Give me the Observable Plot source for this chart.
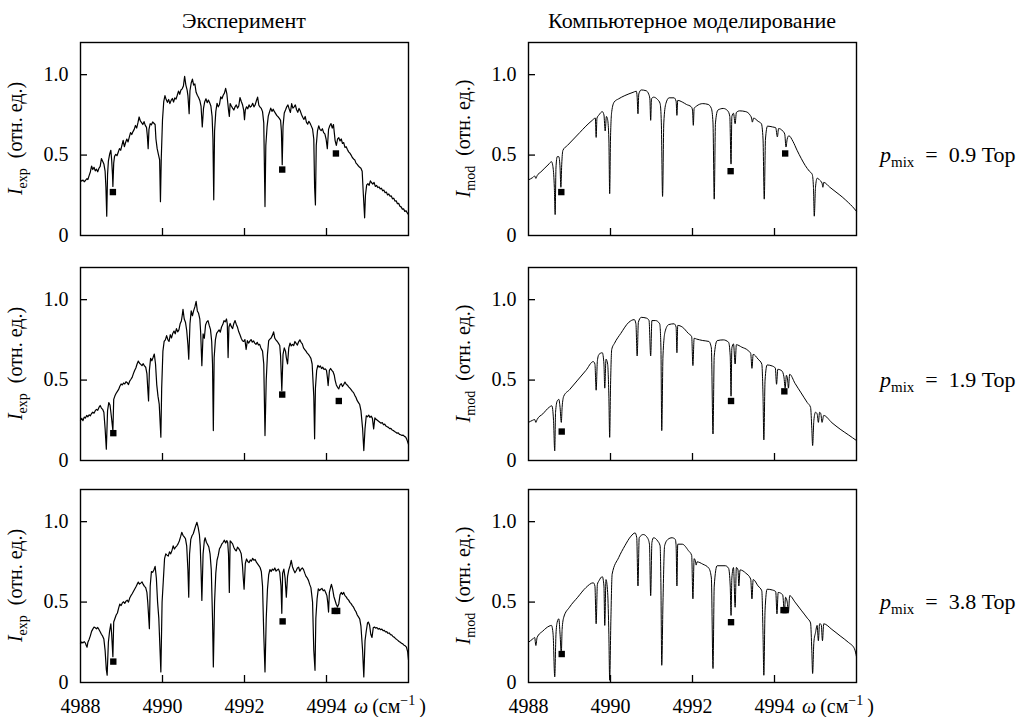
<!DOCTYPE html>
<html>
<head>
<meta charset="utf-8">
<script src="https://cdn.jsdelivr.net/npm/d3@7"></script>
<script src="https://cdn.jsdelivr.net/npm/@observablehq/plot@0.6"></script>
<style>
  html, body { margin: 0; padding: 0; background: #fff; }
  #root { position: relative; width: 1018px; height: 717px; overflow: hidden; background: #fff; }
  #root svg { position: absolute; }
  #root svg text, #root svg tspan { font-family: 'Liberation Serif', 'Times New Roman', serif !important; }
</style>
</head>
<body>
<div id="root"></div>
<script>
// ---------- data ----------
const columnTitles = ["Эксперимент", "Компьютерное моделирование"];
const pressures = ["0.9", "1.9", "3.8"];
const xTicks = [4990, 4992, 4994];
const xTickLabels = [4988, 4990, 4992, 4994];
const yTicks = [0.5, 1.0];
const yTickLabels = [0, 0.5, 1.0];
const xDomain = [4988, 4996];
const yDomain = [0, 1.2];

// experiment, p = 0.9
const exp09 = [[4988.00,0.346],[4988.03,0.338],[4988.06,0.345],[4988.09,0.334],[4988.12,0.342],[4988.15,0.352],[4988.18,0.348],[4988.21,0.372],[4988.24,0.395],[4988.27,0.432],[4988.30,0.410],[4988.33,0.424],[4988.36,0.402],[4988.39,0.412],[4988.42,0.396],[4988.45,0.418],[4988.48,0.430],[4988.51,0.478],[4988.54,0.462],[4988.57,0.445],[4988.60,0.400],[4988.62,0.300],[4988.64,0.120],[4988.66,0.380],[4988.68,0.462],[4988.71,0.505],[4988.74,0.530],[4988.76,0.470],[4988.78,0.380],[4988.79,0.305],[4988.81,0.450],[4988.83,0.492],[4988.86,0.505],[4988.89,0.496],[4988.92,0.518],[4988.95,0.540],[4988.98,0.530],[4989.01,0.560],[4989.04,0.592],[4989.07,0.552],[4989.10,0.578],[4989.13,0.600],[4989.16,0.582],[4989.19,0.612],[4989.22,0.640],[4989.25,0.628],[4989.28,0.646],[4989.31,0.660],[4989.34,0.684],[4989.37,0.668],[4989.40,0.700],[4989.43,0.737],[4989.46,0.712],[4989.49,0.702],[4989.52,0.690],[4989.55,0.708],[4989.58,0.685],[4989.61,0.672],[4989.63,0.620],[4989.65,0.540],[4989.67,0.660],[4989.70,0.695],[4989.73,0.688],[4989.76,0.706],[4989.79,0.698],[4989.82,0.690],[4989.84,0.600],[4989.87,0.540],[4989.90,0.505],[4989.93,0.470],[4989.95,0.210],[4989.97,0.480],[4990.00,0.720],[4990.03,0.832],[4990.06,0.870],[4990.09,0.845],[4990.12,0.828],[4990.15,0.846],[4990.18,0.820],[4990.21,0.840],[4990.24,0.852],[4990.27,0.830],[4990.30,0.856],[4990.33,0.848],[4990.36,0.872],[4990.39,0.898],[4990.42,0.878],[4990.45,0.905],[4990.48,0.912],[4990.51,0.930],[4990.54,0.990],[4990.57,0.935],[4990.60,0.905],[4990.62,0.870],[4990.65,0.757],[4990.67,0.900],[4990.70,0.948],[4990.73,0.972],[4990.76,0.935],[4990.79,0.942],[4990.82,0.890],[4990.85,0.872],[4990.88,0.858],[4990.91,0.840],[4990.94,0.805],[4990.97,0.675],[4991.00,0.790],[4991.03,0.832],[4991.06,0.850],[4991.09,0.826],[4991.12,0.842],[4991.15,0.826],[4991.18,0.805],[4991.21,0.740],[4991.23,0.600],[4991.25,0.222],[4991.27,0.650],[4991.30,0.770],[4991.33,0.822],[4991.36,0.800],[4991.39,0.815],[4991.42,0.862],[4991.45,0.850],[4991.48,0.872],[4991.51,0.885],[4991.54,0.915],[4991.57,0.880],[4991.59,0.830],[4991.61,0.780],[4991.63,0.740],[4991.65,0.820],[4991.68,0.805],[4991.71,0.792],[4991.74,0.780],[4991.77,0.800],[4991.80,0.812],[4991.83,0.792],[4991.86,0.805],[4991.89,0.858],[4991.92,0.835],[4991.95,0.815],[4991.98,0.780],[4992.00,0.720],[4992.02,0.780],[4992.05,0.800],[4992.08,0.788],[4992.11,0.812],[4992.14,0.798],[4992.17,0.805],[4992.20,0.822],[4992.23,0.800],[4992.26,0.812],[4992.29,0.838],[4992.32,0.860],[4992.35,0.810],[4992.38,0.798],[4992.41,0.790],[4992.44,0.770],[4992.47,0.700],[4992.50,0.180],[4992.52,0.560],[4992.55,0.675],[4992.58,0.742],[4992.61,0.768],[4992.64,0.792],[4992.67,0.772],[4992.70,0.785],[4992.73,0.770],[4992.76,0.758],[4992.79,0.745],[4992.82,0.738],[4992.85,0.728],[4992.88,0.716],[4992.90,0.650],[4992.92,0.440],[4992.94,0.680],[4992.97,0.762],[4993.00,0.780],[4993.03,0.800],[4993.06,0.812],[4993.09,0.786],[4993.12,0.765],[4993.15,0.820],[4993.18,0.792],[4993.21,0.800],[4993.24,0.812],[4993.27,0.782],[4993.30,0.766],[4993.33,0.790],[4993.36,0.775],[4993.39,0.752],[4993.42,0.735],[4993.45,0.722],[4993.48,0.740],[4993.51,0.705],[4993.54,0.692],[4993.57,0.710],[4993.60,0.698],[4993.63,0.680],[4993.66,0.662],[4993.69,0.600],[4993.71,0.300],[4993.73,0.190],[4993.75,0.560],[4993.78,0.650],[4993.81,0.682],[4993.84,0.660],[4993.87,0.652],[4993.90,0.664],[4993.93,0.640],[4993.96,0.632],[4993.99,0.600],[4994.02,0.540],[4994.05,0.660],[4994.08,0.682],[4994.11,0.696],[4994.14,0.668],[4994.17,0.690],[4994.19,0.640],[4994.21,0.590],[4994.24,0.560],[4994.27,0.600],[4994.30,0.608],[4994.33,0.588],[4994.36,0.600],[4994.39,0.572],[4994.42,0.578],[4994.45,0.548],[4994.48,0.552],[4994.51,0.535],[4994.54,0.520],[4994.57,0.512],[4994.60,0.500],[4994.63,0.485],[4994.66,0.476],[4994.69,0.470],[4994.72,0.450],[4994.75,0.442],[4994.78,0.432],[4994.81,0.424],[4994.84,0.418],[4994.87,0.400],[4994.90,0.250],[4994.93,0.110],[4994.95,0.250],[4994.98,0.315],[4995.01,0.322],[4995.04,0.312],[4995.07,0.340],[4995.10,0.328],[4995.13,0.320],[4995.16,0.330],[4995.19,0.305],[4995.22,0.312],[4995.25,0.298],[4995.28,0.302],[4995.31,0.290],[4995.34,0.294],[4995.37,0.278],[4995.40,0.282],[4995.43,0.266],[4995.46,0.270],[4995.49,0.252],[4995.52,0.258],[4995.55,0.244],[4995.58,0.246],[4995.61,0.228],[4995.64,0.232],[4995.67,0.214],[4995.70,0.216],[4995.73,0.198],[4995.76,0.200],[4995.79,0.182],[4995.82,0.178],[4995.85,0.164],[4995.88,0.166],[4995.91,0.150],[4995.94,0.154],[4995.97,0.140],[4996.00,0.130]];

// model, p = 0.9
const mod09 = [[4988.00,0.346],[4988.10,0.360],[4988.15,0.370],[4988.18,0.355],[4988.21,0.372],[4988.30,0.395],[4988.40,0.420],[4988.50,0.445],[4988.56,0.459],[4988.60,0.420],[4988.63,0.300],[4988.65,0.130],[4988.67,0.420],[4988.70,0.490],[4988.74,0.490],[4988.77,0.420],[4988.79,0.300],[4988.81,0.440],[4988.84,0.530],[4988.95,0.560],[4989.10,0.600],[4989.25,0.640],[4989.40,0.680],[4989.55,0.715],[4989.63,0.730],[4989.65,0.610],[4989.67,0.730],[4989.72,0.750],[4989.80,0.770],[4989.84,0.750],[4989.87,0.650],[4989.90,0.740],[4989.93,0.720],[4989.96,0.600],[4989.98,0.260],[4990.00,0.600],[4990.03,0.770],[4990.09,0.830],[4990.20,0.850],[4990.35,0.870],[4990.55,0.890],[4990.63,0.897],[4990.65,0.860],[4990.67,0.757],[4990.69,0.880],[4990.75,0.905],[4990.87,0.900],[4990.93,0.880],[4990.96,0.850],[4990.98,0.716],[4991.00,0.850],[4991.05,0.860],[4991.15,0.845],[4991.21,0.820],[4991.24,0.700],[4991.27,0.243],[4991.30,0.700],[4991.35,0.820],[4991.43,0.856],[4991.55,0.856],[4991.60,0.835],[4991.62,0.747],[4991.64,0.840],[4991.75,0.830],[4991.85,0.815],[4991.97,0.800],[4992.00,0.780],[4992.02,0.685],[4992.04,0.790],[4992.10,0.805],[4992.25,0.820],[4992.38,0.815],[4992.46,0.790],[4992.50,0.700],[4992.53,0.226],[4992.56,0.700],[4992.62,0.780],[4992.75,0.790],[4992.86,0.775],[4992.91,0.740],[4992.94,0.444],[4992.96,0.740],[4993.00,0.760],[4993.04,0.695],[4993.07,0.765],[4993.15,0.775],[4993.30,0.770],[4993.40,0.750],[4993.44,0.730],[4993.46,0.705],[4993.49,0.730],[4993.60,0.710],[4993.68,0.695],[4993.72,0.600],[4993.75,0.226],[4993.78,0.600],[4993.83,0.680],[4993.95,0.675],[4994.03,0.670],[4994.07,0.613],[4994.10,0.665],[4994.20,0.650],[4994.25,0.630],[4994.28,0.550],[4994.31,0.600],[4994.35,0.620],[4994.45,0.585],[4994.55,0.530],[4994.65,0.480],[4994.75,0.435],[4994.85,0.400],[4994.92,0.380],[4994.95,0.300],[4994.97,0.120],[4995.00,0.300],[4995.04,0.356],[4995.10,0.345],[4995.16,0.325],[4995.18,0.300],[4995.20,0.330],[4995.35,0.300],[4995.50,0.270],[4995.65,0.240],[4995.80,0.205],[4995.90,0.180],[4996.00,0.150]];

// experiment, p = 1.9
const exp19 = [[4988.00,0.250],[4988.03,0.262],[4988.06,0.248],[4988.09,0.270],[4988.12,0.264],[4988.15,0.280],[4988.18,0.272],[4988.21,0.284],[4988.24,0.278],[4988.27,0.292],[4988.30,0.300],[4988.33,0.294],[4988.36,0.310],[4988.39,0.318],[4988.42,0.312],[4988.45,0.330],[4988.48,0.342],[4988.51,0.326],[4988.54,0.318],[4988.57,0.300],[4988.60,0.200],[4988.63,0.070],[4988.66,0.310],[4988.69,0.360],[4988.72,0.345],[4988.75,0.280],[4988.79,0.186],[4988.81,0.380],[4988.84,0.402],[4988.87,0.418],[4988.90,0.430],[4988.93,0.442],[4988.96,0.462],[4988.99,0.476],[4989.02,0.470],[4989.05,0.482],[4989.08,0.476],[4989.11,0.490],[4989.14,0.484],[4989.17,0.472],[4989.20,0.494],[4989.23,0.505],[4989.26,0.517],[4989.29,0.540],[4989.32,0.560],[4989.35,0.575],[4989.38,0.600],[4989.41,0.618],[4989.44,0.605],[4989.47,0.598],[4989.50,0.590],[4989.53,0.602],[4989.56,0.588],[4989.59,0.580],[4989.62,0.540],[4989.64,0.450],[4989.66,0.370],[4989.68,0.560],[4989.71,0.635],[4989.74,0.620],[4989.77,0.640],[4989.80,0.662],[4989.83,0.600],[4989.86,0.470],[4989.89,0.400],[4989.92,0.350],[4989.96,0.145],[4989.98,0.450],[4990.01,0.680],[4990.04,0.740],[4990.07,0.750],[4990.10,0.776],[4990.13,0.752],[4990.16,0.740],[4990.19,0.782],[4990.22,0.762],[4990.25,0.790],[4990.28,0.805],[4990.31,0.788],[4990.34,0.820],[4990.37,0.800],[4990.40,0.812],[4990.43,0.850],[4990.46,0.868],[4990.48,0.900],[4990.50,0.940],[4990.53,0.880],[4990.56,0.860],[4990.59,0.810],[4990.62,0.720],[4990.64,0.630],[4990.67,0.850],[4990.70,0.930],[4990.73,0.900],[4990.76,0.932],[4990.79,0.955],[4990.82,0.990],[4990.85,0.930],[4990.88,0.915],[4990.91,0.880],[4990.93,0.800],[4990.96,0.590],[4990.99,0.787],[4991.02,0.760],[4991.05,0.842],[4991.08,0.862],[4991.11,0.870],[4991.14,0.840],[4991.17,0.815],[4991.20,0.740],[4991.22,0.600],[4991.24,0.186],[4991.26,0.640],[4991.29,0.750],[4991.32,0.790],[4991.35,0.802],[4991.38,0.812],[4991.41,0.798],[4991.44,0.830],[4991.47,0.845],[4991.50,0.870],[4991.53,0.862],[4991.56,0.880],[4991.58,0.850],[4991.60,0.640],[4991.62,0.830],[4991.65,0.852],[4991.68,0.832],[4991.71,0.820],[4991.74,0.852],[4991.77,0.870],[4991.80,0.846],[4991.83,0.828],[4991.86,0.800],[4991.89,0.782],[4991.92,0.760],[4991.95,0.745],[4991.98,0.740],[4992.01,0.752],[4992.04,0.690],[4992.07,0.745],[4992.10,0.730],[4992.13,0.742],[4992.16,0.752],[4992.19,0.736],[4992.22,0.744],[4992.25,0.730],[4992.28,0.722],[4992.31,0.735],[4992.34,0.718],[4992.37,0.722],[4992.40,0.700],[4992.44,0.680],[4992.47,0.600],[4992.50,0.155],[4992.53,0.500],[4992.56,0.660],[4992.59,0.745],[4992.62,0.755],[4992.65,0.762],[4992.68,0.778],[4992.71,0.800],[4992.74,0.760],[4992.77,0.748],[4992.80,0.740],[4992.83,0.728],[4992.86,0.715],[4992.88,0.650],[4992.91,0.435],[4992.94,0.660],[4992.97,0.700],[4993.00,0.680],[4993.02,0.640],[4993.05,0.600],[4993.08,0.700],[4993.11,0.730],[4993.14,0.712],[4993.17,0.722],[4993.20,0.715],[4993.23,0.740],[4993.26,0.728],[4993.29,0.718],[4993.32,0.738],[4993.35,0.750],[4993.38,0.735],[4993.41,0.725],[4993.44,0.700],[4993.47,0.690],[4993.50,0.680],[4993.53,0.668],[4993.56,0.660],[4993.59,0.648],[4993.62,0.635],[4993.65,0.600],[4993.69,0.400],[4993.71,0.135],[4993.73,0.450],[4993.76,0.560],[4993.79,0.592],[4993.82,0.580],[4993.85,0.588],[4993.88,0.572],[4993.91,0.580],[4993.94,0.566],[4993.97,0.570],[4994.00,0.560],[4994.02,0.520],[4994.04,0.466],[4994.07,0.560],[4994.10,0.572],[4994.13,0.560],[4994.16,0.552],[4994.19,0.530],[4994.21,0.500],[4994.24,0.470],[4994.27,0.455],[4994.30,0.445],[4994.33,0.470],[4994.36,0.478],[4994.39,0.460],[4994.42,0.472],[4994.45,0.488],[4994.48,0.475],[4994.51,0.468],[4994.54,0.458],[4994.57,0.450],[4994.60,0.440],[4994.63,0.430],[4994.66,0.422],[4994.69,0.405],[4994.72,0.392],[4994.75,0.372],[4994.78,0.360],[4994.81,0.348],[4994.84,0.310],[4994.88,0.200],[4994.91,0.062],[4994.94,0.200],[4994.97,0.278],[4995.00,0.272],[4995.03,0.282],[4995.06,0.268],[4995.09,0.276],[4995.12,0.262],[4995.15,0.197],[4995.18,0.265],[4995.21,0.256],[4995.24,0.250],[4995.27,0.244],[4995.30,0.238],[4995.33,0.232],[4995.36,0.236],[4995.39,0.222],[4995.42,0.226],[4995.45,0.214],[4995.48,0.210],[4995.51,0.206],[4995.54,0.198],[4995.57,0.200],[4995.60,0.190],[4995.63,0.186],[4995.66,0.180],[4995.69,0.176],[4995.72,0.170],[4995.75,0.172],[4995.78,0.162],[4995.81,0.160],[4995.84,0.156],[4995.87,0.158],[4995.90,0.150],[4995.93,0.146],[4995.96,0.130],[4996.00,0.100]];

// model, p = 1.9
const mod19 = [[4988.00,0.237],[4988.10,0.250],[4988.15,0.255],[4988.18,0.237],[4988.21,0.255],[4988.35,0.290],[4988.50,0.330],[4988.57,0.340],[4988.61,0.250],[4988.64,0.060],[4988.66,0.300],[4988.70,0.370],[4988.74,0.380],[4988.77,0.330],[4988.80,0.237],[4988.82,0.330],[4988.86,0.400],[4989.00,0.440],[4989.20,0.500],[4989.40,0.560],[4989.58,0.615],[4989.62,0.600],[4989.65,0.437],[4989.68,0.620],[4989.72,0.660],[4989.80,0.670],[4989.84,0.600],[4989.86,0.450],[4989.89,0.630],[4989.93,0.600],[4989.96,0.400],[4989.98,0.144],[4990.00,0.450],[4990.03,0.690],[4990.10,0.730],[4990.25,0.790],[4990.45,0.860],[4990.58,0.876],[4990.62,0.850],[4990.65,0.650],[4990.68,0.860],[4990.75,0.890],[4990.88,0.885],[4990.94,0.870],[4990.98,0.650],[4991.01,0.870],[4991.10,0.870],[4991.20,0.850],[4991.23,0.700],[4991.25,0.186],[4991.28,0.650],[4991.33,0.800],[4991.42,0.845],[4991.55,0.850],[4991.60,0.830],[4991.62,0.670],[4991.64,0.840],[4991.75,0.830],[4991.90,0.790],[4991.98,0.770],[4992.01,0.590],[4992.04,0.760],[4992.10,0.755],[4992.25,0.746],[4992.40,0.740],[4992.46,0.700],[4992.50,0.165],[4992.53,0.650],[4992.60,0.745],[4992.75,0.750],[4992.88,0.735],[4992.92,0.650],[4992.94,0.400],[4992.96,0.700],[4993.00,0.725],[4993.04,0.600],[4993.07,0.720],[4993.20,0.705],[4993.35,0.685],[4993.42,0.665],[4993.45,0.573],[4993.48,0.660],[4993.60,0.630],[4993.69,0.600],[4993.72,0.400],[4993.74,0.128],[4993.77,0.500],[4993.82,0.594],[4993.95,0.587],[4994.02,0.575],[4994.05,0.474],[4994.08,0.567],[4994.18,0.557],[4994.23,0.520],[4994.26,0.450],[4994.29,0.530],[4994.32,0.500],[4994.34,0.450],[4994.37,0.536],[4994.50,0.480],[4994.65,0.420],[4994.80,0.360],[4994.88,0.330],[4994.91,0.200],[4994.93,0.093],[4994.96,0.250],[4995.00,0.300],[4995.04,0.290],[4995.07,0.237],[4995.10,0.300],[4995.13,0.290],[4995.16,0.237],[4995.20,0.280],[4995.40,0.235],[4995.60,0.195],[4995.80,0.160],[4996.00,0.124]];

// experiment, p = 3.8
const exp38 = [[4988.00,0.240],[4988.03,0.252],[4988.06,0.246],[4988.09,0.254],[4988.12,0.245],[4988.14,0.230],[4988.16,0.220],[4988.18,0.250],[4988.21,0.268],[4988.24,0.290],[4988.27,0.318],[4988.30,0.332],[4988.33,0.345],[4988.36,0.340],[4988.39,0.334],[4988.42,0.342],[4988.45,0.330],[4988.48,0.316],[4988.51,0.300],[4988.54,0.288],[4988.57,0.270],[4988.60,0.200],[4988.63,0.080],[4988.65,0.045],[4988.68,0.250],[4988.71,0.320],[4988.74,0.365],[4988.76,0.300],[4988.79,0.160],[4988.81,0.376],[4988.84,0.398],[4988.87,0.420],[4988.90,0.432],[4988.93,0.462],[4988.96,0.488],[4988.99,0.478],[4989.02,0.495],[4989.05,0.502],[4989.08,0.492],[4989.11,0.506],[4989.14,0.512],[4989.17,0.500],[4989.20,0.525],[4989.23,0.540],[4989.26,0.552],[4989.29,0.566],[4989.32,0.580],[4989.35,0.594],[4989.38,0.610],[4989.41,0.624],[4989.44,0.612],[4989.47,0.618],[4989.50,0.626],[4989.53,0.610],[4989.56,0.598],[4989.59,0.590],[4989.62,0.560],[4989.64,0.500],[4989.68,0.335],[4989.70,0.600],[4989.73,0.690],[4989.76,0.685],[4989.79,0.700],[4989.82,0.722],[4989.85,0.650],[4989.88,0.500],[4989.91,0.400],[4989.94,0.200],[4989.96,0.066],[4989.99,0.500],[4990.02,0.634],[4990.05,0.770],[4990.08,0.800],[4990.11,0.792],[4990.14,0.786],[4990.17,0.812],[4990.20,0.800],[4990.23,0.820],[4990.26,0.850],[4990.29,0.830],[4990.32,0.842],[4990.35,0.850],[4990.38,0.862],[4990.41,0.880],[4990.44,0.905],[4990.47,0.934],[4990.50,0.915],[4990.53,0.905],[4990.56,0.895],[4990.59,0.850],[4990.62,0.700],[4990.64,0.530],[4990.66,0.800],[4990.69,0.890],[4990.72,0.912],[4990.75,0.925],[4990.78,0.950],[4990.81,0.975],[4990.84,0.996],[4990.87,0.965],[4990.90,0.920],[4990.92,0.850],[4990.94,0.700],[4990.96,0.510],[4990.99,0.800],[4991.02,0.880],[4991.04,0.900],[4991.07,0.872],[4991.10,0.858],[4991.13,0.842],[4991.16,0.800],[4991.19,0.700],[4991.22,0.400],[4991.24,0.097],[4991.27,0.500],[4991.30,0.680],[4991.33,0.760],[4991.36,0.790],[4991.39,0.832],[4991.42,0.845],[4991.45,0.862],[4991.48,0.872],[4991.51,0.885],[4991.54,0.868],[4991.57,0.882],[4991.59,0.870],[4991.61,0.800],[4991.63,0.560],[4991.65,0.880],[4991.68,0.872],[4991.71,0.862],[4991.74,0.840],[4991.77,0.825],[4991.80,0.818],[4991.83,0.842],[4991.86,0.832],[4991.89,0.820],[4991.92,0.800],[4991.95,0.730],[4991.97,0.650],[4991.99,0.580],[4992.02,0.740],[4992.05,0.768],[4992.08,0.752],[4992.11,0.745],[4992.14,0.762],[4992.17,0.755],[4992.20,0.772],[4992.23,0.760],[4992.26,0.765],[4992.29,0.748],[4992.32,0.738],[4992.35,0.727],[4992.38,0.715],[4992.41,0.690],[4992.44,0.600],[4992.47,0.300],[4992.50,0.066],[4992.53,0.400],[4992.56,0.580],[4992.59,0.670],[4992.62,0.702],[4992.65,0.690],[4992.68,0.705],[4992.71,0.698],[4992.74,0.712],[4992.77,0.692],[4992.80,0.700],[4992.83,0.705],[4992.86,0.685],[4992.89,0.600],[4992.91,0.430],[4992.93,0.680],[4992.96,0.705],[4992.99,0.650],[4993.02,0.530],[4993.05,0.660],[4993.08,0.700],[4993.11,0.725],[4993.14,0.760],[4993.17,0.720],[4993.20,0.700],[4993.23,0.682],[4993.26,0.695],[4993.29,0.712],[4993.32,0.717],[4993.35,0.692],[4993.38,0.705],[4993.41,0.712],[4993.44,0.702],[4993.47,0.680],[4993.50,0.660],[4993.53,0.650],[4993.56,0.635],[4993.59,0.610],[4993.62,0.590],[4993.66,0.500],[4993.69,0.200],[4993.72,0.076],[4993.74,0.400],[4993.77,0.520],[4993.80,0.582],[4993.83,0.572],[4993.86,0.580],[4993.89,0.585],[4993.92,0.570],[4993.95,0.576],[4993.98,0.560],[4994.01,0.540],[4994.03,0.500],[4994.05,0.438],[4994.07,0.560],[4994.10,0.592],[4994.12,0.610],[4994.15,0.580],[4994.18,0.535],[4994.21,0.510],[4994.24,0.485],[4994.27,0.470],[4994.30,0.490],[4994.33,0.545],[4994.36,0.560],[4994.39,0.548],[4994.42,0.560],[4994.45,0.540],[4994.48,0.532],[4994.51,0.520],[4994.54,0.512],[4994.57,0.498],[4994.60,0.490],[4994.63,0.478],[4994.66,0.468],[4994.69,0.452],[4994.72,0.440],[4994.75,0.420],[4994.78,0.408],[4994.81,0.395],[4994.84,0.350],[4994.88,0.200],[4994.91,0.035],[4994.94,0.260],[4994.97,0.320],[4995.00,0.370],[4995.02,0.376],[4995.05,0.358],[4995.08,0.300],[4995.11,0.280],[4995.14,0.340],[4995.17,0.345],[4995.20,0.338],[4995.23,0.342],[4995.26,0.332],[4995.29,0.336],[4995.32,0.328],[4995.35,0.332],[4995.38,0.322],[4995.41,0.324],[4995.44,0.314],[4995.47,0.316],[4995.50,0.306],[4995.53,0.308],[4995.56,0.298],[4995.59,0.296],[4995.62,0.286],[4995.65,0.282],[4995.68,0.274],[4995.71,0.268],[4995.74,0.262],[4995.77,0.255],[4995.80,0.250],[4995.83,0.244],[4995.86,0.240],[4995.89,0.232],[4995.92,0.228],[4995.95,0.220],[4995.98,0.190],[4996.00,0.140]];

// model, p = 3.8
const mod38 = [[4988.00,0.250],[4988.10,0.270],[4988.15,0.280],[4988.18,0.230],[4988.21,0.280],[4988.35,0.320],[4988.50,0.350],[4988.56,0.355],[4988.60,0.300],[4988.64,0.035],[4988.67,0.300],[4988.70,0.375],[4988.74,0.396],[4988.77,0.300],[4988.80,0.180],[4988.82,0.330],[4988.86,0.406],[4989.00,0.468],[4989.20,0.530],[4989.40,0.590],[4989.58,0.620],[4989.62,0.600],[4989.65,0.365],[4989.68,0.610],[4989.72,0.633],[4989.80,0.658],[4989.84,0.600],[4989.86,0.355],[4989.89,0.640],[4989.93,0.560],[4989.96,0.300],[4989.98,0.014],[4990.01,0.400],[4990.04,0.674],[4990.20,0.777],[4990.35,0.850],[4990.50,0.910],[4990.60,0.930],[4990.64,0.900],[4990.67,0.600],[4990.70,0.900],[4990.80,0.920],[4990.90,0.900],[4990.95,0.860],[4990.98,0.540],[4991.01,0.870],[4991.05,0.900],[4991.15,0.880],[4991.21,0.850],[4991.23,0.600],[4991.25,0.107],[4991.28,0.500],[4991.32,0.850],[4991.40,0.890],[4991.50,0.900],[4991.58,0.890],[4991.60,0.850],[4991.62,0.600],[4991.64,0.860],[4991.75,0.860],[4991.90,0.820],[4991.98,0.790],[4992.01,0.520],[4992.04,0.770],[4992.07,0.755],[4992.09,0.730],[4992.11,0.750],[4992.25,0.736],[4992.40,0.710],[4992.46,0.650],[4992.50,0.087],[4992.53,0.600],[4992.60,0.726],[4992.80,0.726],[4992.88,0.710],[4992.92,0.600],[4992.94,0.417],[4992.96,0.650],[4993.00,0.715],[4993.04,0.468],[4993.07,0.715],[4993.11,0.700],[4993.13,0.600],[4993.16,0.700],[4993.30,0.680],[4993.42,0.643],[4993.45,0.520],[4993.48,0.640],[4993.60,0.600],[4993.69,0.570],[4993.72,0.300],[4993.74,0.045],[4993.77,0.450],[4993.82,0.580],[4993.95,0.575],[4994.03,0.565],[4994.06,0.427],[4994.09,0.560],[4994.20,0.545],[4994.24,0.437],[4994.27,0.530],[4994.31,0.500],[4994.34,0.437],[4994.37,0.540],[4994.50,0.500],[4994.65,0.450],[4994.80,0.400],[4994.88,0.370],[4994.91,0.200],[4994.93,0.056],[4994.96,0.250],[4995.00,0.310],[4995.04,0.355],[4995.07,0.260],[4995.10,0.365],[4995.14,0.360],[4995.17,0.260],[4995.20,0.365],[4995.40,0.330],[4995.60,0.290],[4995.80,0.250],[4995.95,0.210],[4996.00,0.160]];

// square markers (line positions)
const sqExp09 = [[4988.79,0.27],[4992.92,0.41],[4994.23,0.51]];
const sqMod09 = [[4988.80,0.27],[4992.93,0.40],[4994.26,0.51]];
const sqExp19 = [[4988.80,0.17],[4992.92,0.41],[4994.30,0.37]];
const sqMod19 = [[4988.81,0.18],[4992.94,0.37],[4994.24,0.43]];
const sqExp38 = [[4988.80,0.13],[4992.93,0.38],[4994.20,0.445],[4994.26,0.445]];
const sqMod38 = [[4988.81,0.177],[4992.94,0.375],[4994.22,0.45],[4994.27,0.45]];

// ---------- layout ----------
const FONT = "'Liberation Serif', 'Times New Roman', serif";
const colFrameLeft = [80, 528];
const rowFrameTop = [42, 267, 489];
const frameW = 328;
const frameH = 193;
const ML = 80, MR = 12, MT = 10;

const root = document.getElementById("root");

const panels = [
  {row: 0, col: 0, data: exp09, sq: sqExp09, sub: "exp"},
  {row: 0, col: 1, data: mod09, sq: sqMod09, sub: "mod"},
  {row: 1, col: 0, data: exp19, sq: sqExp19, sub: "exp"},
  {row: 1, col: 1, data: mod19, sq: sqMod19, sub: "mod"},
  {row: 2, col: 0, data: exp38, sq: sqExp38, sub: "exp"},
  {row: 2, col: 1, data: mod38, sq: sqMod38, sub: "mod"}
];

for (const p of panels) {
  const bottom = p.row === 2;
  const MB = bottom ? 40 : 6;
  const plot = Plot.plot({
    width: ML + frameW + MR,
    height: MT + frameH + MB,
    marginLeft: ML, marginRight: MR, marginTop: MT, marginBottom: MB,
    x: {domain: xDomain, axis: null},
    y: {domain: yDomain, axis: null},
    style: {fontFamily: FONT, fontSize: "20px", background: "transparent", color: "black", overflow: "visible"},
    marks: [
      Plot.line(p.data, {x: d => d[0], y: d => d[1], stroke: "black", strokeWidth: p.sub === "exp" ? 1.2 : 1, curve: p.sub === "exp" ? "linear" : "monotone-x"}),
      Plot.dot(p.sq, {x: d => d[0], y: d => d[1], symbol: "square", fill: "black", r: 3.6}),
      Plot.tickX(xTicks, {x: d => d, insetTop: frameH - 7, stroke: "black", strokeWidth: 1.3}),
      Plot.tickY(yTicks, {y: d => d, insetRight: frameW - 7, stroke: "black", strokeWidth: 1.3}),
      Plot.frame({stroke: "black", strokeWidth: 1.4}),
      Plot.axisY(yTickLabels, {tickSize: 0, tickPadding: 12, tickFormat: d => d === 0 ? "0" : d.toFixed(1), fontSize: 20, fill: "black"}),
      bottom ? Plot.axisX(xTickLabels, {tickSize: 0, tickPadding: 16, tickFormat: d => String(d), fontSize: 20, fill: "black"}) : null
    ]
  });
  plot.style.left = (colFrameLeft[p.col] - ML) + "px";
  plot.style.top = (rowFrameTop[p.row] - MT) + "px";
  const svg = d3.select(plot);
  // y-axis label with subscript
  const t = svg.append("text")
    .attr("transform", `translate(${ML - 58},${MT + frameH / 2}) rotate(-90)`)
    .attr("text-anchor", "middle")
    .attr("font-family", FONT).attr("font-size", 20).attr("fill", "black");
  t.append("tspan").attr("font-style", "italic").text("I");
  t.append("tspan").attr("font-size", 14).attr("dy", 5).text(p.sub);
  t.append("tspan").attr("dy", -5).text("\u00A0\u00A0(отн. ед.)");
  if (bottom) {
    const w = svg.append("text")
      .attr("x", ML + frameW - 54).attr("y", MT + frameH + 31)
      .attr("text-anchor", "start")
      .attr("font-family", FONT).attr("font-size", 20).attr("fill", "black");
    w.append("tspan").attr("font-style", "italic").text("ω");
    w.append("tspan").text("\u2009(см");
    w.append("tspan").attr("font-size", 14).attr("dy", -8).text("−1");
    w.append("tspan").attr("dy", 8).text("\u2009)");
  }
  root.appendChild(plot);
}

// overlay text: titles and pressure labels
const ov = d3.select(root).append("svg")
  .attr("width", 1018).attr("height", 717)
  .style("left", "0px").style("top", "0px").style("pointer-events", "none");
columnTitles.forEach((s, i) => {
  ov.append("text")
    .attr("x", colFrameLeft[i] + frameW / 2).attr("y", 28)
    .attr("text-anchor", "middle")
    .attr("font-family", FONT).attr("font-size", 22).attr("fill", "black")
    .text(s);
});
pressures.forEach((s, i) => {
  const y = rowFrameTop[i] + frameH * (1 - 0.5 / 1.2) + 7;
  const t = ov.append("text")
    .attr("x", 880).attr("y", y)
    .attr("font-family", FONT).attr("font-size", 22).attr("fill", "black");
  t.append("tspan").attr("font-style", "italic").text("p");
  t.append("tspan").attr("font-size", 15).attr("dy", 5).text("mix");
  t.append("tspan").attr("dy", -5).text("\u2002=\u2002" + s + " Тор");
});
</script>
</body>
</html>
